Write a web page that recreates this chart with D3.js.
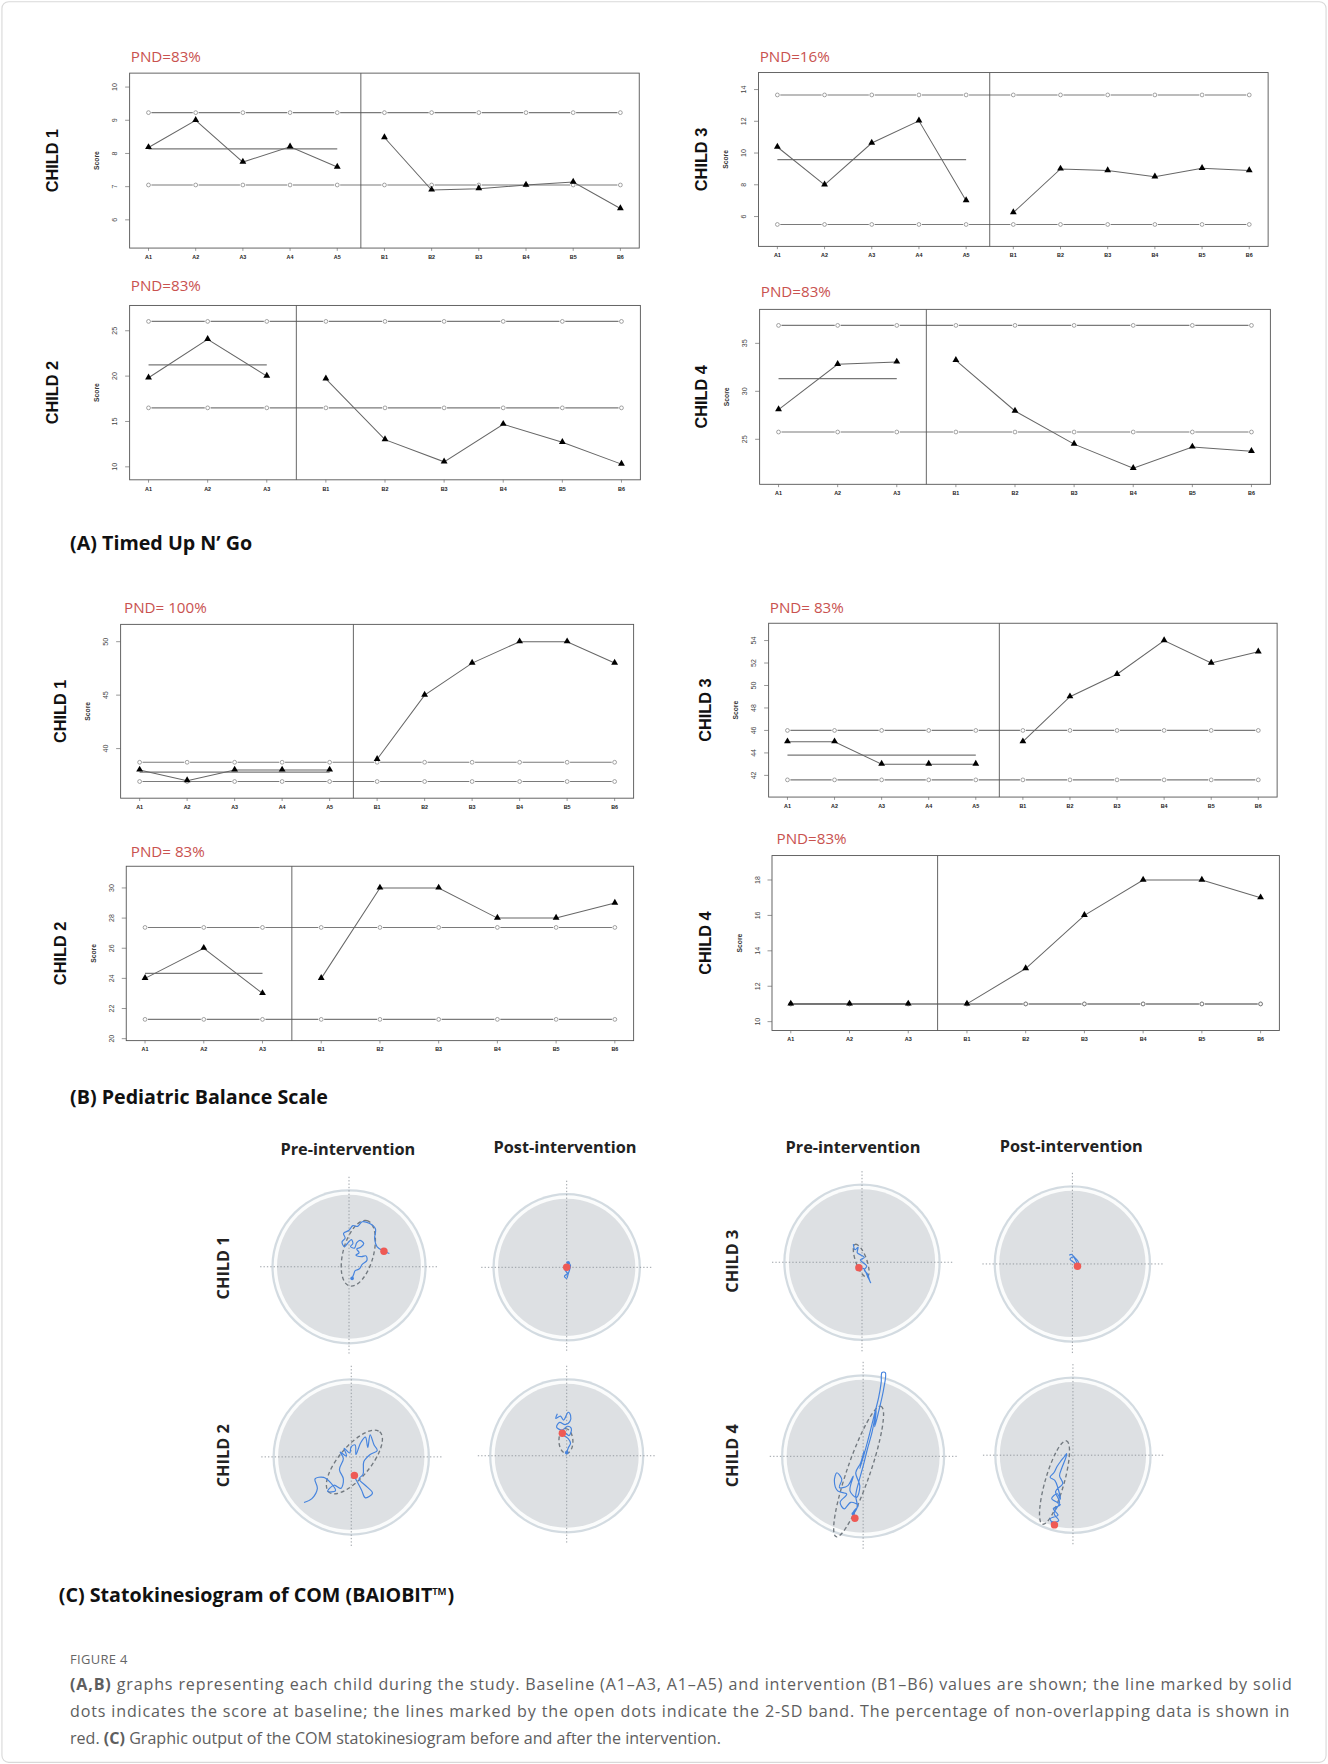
<!DOCTYPE html>
<html lang="en">
<head>
<meta charset="UTF-8" />
<title>Figure 4</title>
<script src="https://cdn.jsdelivr.net/npm/d3@7/dist/d3.min.js"></script>
<style>
  body { margin: 0; background: #fff; }
  svg { display: block; font-family: "Open Sans", "DejaVu Sans", sans-serif; }
</style>
</head>
<body>
<script>
// ---- tick labels ----
var labels5 = ["A1","A2","A3","A4","A5","B1","B2","B3","B4","B5","B6"];
var labels3 = ["A1","A2","A3","B1","B2","B3","B4","B5","B6"];

// ---- (A) Timed Up N' Go, child 1..4 ----
var tugChild1 = [8.18, 9.0, 7.74, 8.2, 7.59, 8.48, 6.9, 6.94, 7.05, 7.14, 6.34];
var tugChild2 = [19.82, 24.05, 20.0, 19.7, 13.0, 10.55, 14.7, 12.7, 10.3];
var tugChild3 = [10.38, 8.0, 10.63, 12.03, 7.0, 6.25, 9.0, 8.9, 8.5, 9.04, 8.9];
var tugChild4 = [28.09, 32.81, 33.06, 33.23, 27.95, 24.5, 21.98, 24.2, 23.75];
var tugMean  = [8.14, 21.25, 9.58, 31.32];
var tugUpper = [9.23, 26.03, 13.66, 36.87];
var tugLower = [7.05, 16.5, 5.5, 25.76];
var tugPnd = ["PND=83%", "PND=83%", "PND=16%", "PND=83%"];
var tugTicks = [[6,7,8,9,10], [10,15,20,25], [6,8,10,12,14], [25,30,35]];

// ---- (B) Pediatric Balance Scale, child 1..4 ----
var pbsChild1 = [38, 37, 38, 38, 38, 39, 45, 48, 50, 50, 48];
var pbsChild2 = [24, 26, 23, 24, 30, 30, 28, 28, 29];
var pbsChild3 = [45, 45, 43, 43, 43, 45, 49, 51, 54, 52, 53];
var pbsChild4 = [11, 11, 11, 11, 13, 16, 18, 18, 17];
var pbsMean  = [37.8, 24.33, 43.8, 11];
var pbsUpper = [38.72, 27.38, 46.0, 11];
var pbsLower = [36.92, 21.28, 41.6, 11];
var pbsPnd = ["PND= 100%", "PND= 83%", "PND= 83%", "PND=83%"];
var pbsTicks = [[40,45,50], [20,22,24,26,28,30], [42,44,46,48,50,52,54], [10,12,14,16,18]];

// ---- (C) statokinesiogram, COM path (units: circle radius = 10) ----
var comPre1 = [[5.2,1.7],[4.5,2.0],[3.6,2.6],[3.3,3.6],[3.4,4.9],[2.6,5.6],[1.7,5.8],[1.1,5.2],[0.5,5.3],[0.0,4.7],[-0.7,4.3],[-0.5,3.7],[-0.9,3.2],[-0.6,2.6],[-0.2,3.0],[0.3,3.5],[0.5,3.0],[0.2,2.6],[0.7,2.4],[1.0,3.1],[1.4,3.4],[1.9,3.0],[1.5,2.5],[1.0,2.3],[1.3,1.8],[0.9,1.5],[1.6,1.3],[2.2,1.4],[2.3,0.8],[1.7,0.3],[1.3,-0.3],[0.8,-0.5],[0.6,-1.0],[0.4,-1.5]];
var comPost1 = [[0.3,0.5],[0.1,0.2],[0.4,-0.1],[-0.2,-0.4],[0.1,-0.8],[-0.3,-1.2],[0.0,-1.5],[0.2,-0.9],[0.4,-0.3],[0.5,0.3],[0.2,0.6]];
var comPre2 = [[-6.0,-5.8],[-5.0,-5.3],[-4.3,-4.0],[-4.6,-2.8],[-3.5,-2.6],[-2.6,-3.3],[-2.0,-4.3],[-3.0,-4.4],[-2.2,-3.6],[-1.3,-4.0],[-1.0,-2.8],[-1.5,-1.6],[-1.0,-0.2],[-1.4,0.6],[-0.6,0.1],[-0.9,1.1],[-0.2,0.5],[0.0,1.3],[0.5,1.5],[0.6,0.3],[1.2,1.8],[1.8,2.5],[2.1,1.2],[2.4,2.8],[2.9,1.5],[3.3,0.8],[2.4,0.3],[1.6,-0.6],[1.5,-2.2],[1.0,-2.8],[2.0,-3.8],[2.7,-4.6],[1.8,-5.2],[1.3,-4.2],[0.4,-2.5]];
var comPost2 = [[-1.2,5.4],[-1.4,4.8],[-0.8,5.1],[-0.4,4.6],[0.2,5.6],[0.5,5.2],[0.4,4.4],[-0.2,4.0],[-0.9,4.3],[-1.3,3.7],[-0.6,3.3],[0.1,3.8],[0.6,3.5],[0.3,2.6],[-0.3,3.0],[-0.6,2.8],[0.2,2.2],[0.5,1.6],[0.2,1.0],[0.0,0.4]];
var comPre3 = [[-1.1,2.3],[-0.9,1.6],[-0.5,1.9],[-0.6,1.2],[-0.1,0.9],[0.3,0.6],[-0.2,0.3],[0.2,-0.1],[0.6,-0.5],[0.3,-1.0],[0.7,-1.5],[1.0,-2.4],[1.1,-2.6],[0.8,-2.0],[0.2,-0.8],[-0.4,-0.7]];
var comPost3 = [[-0.4,1.1],[-0.1,1.2],[0.3,0.8],[0.6,0.5],[0.8,0.1],[0.6,-0.2],[0.2,0.2],[-0.3,0.6],[0.1,0.9],[0.5,0.3],[0.65,-0.3]];
var comPre4 = [[-1.0,-7.55],[-1.2,-6.8],[-0.6,-6.0],[-1.5,-5.6],[-2.3,-6.4],[-2.8,-5.6],[-2.0,-4.6],[-3.1,-4.2],[-3.5,-3.0],[-3.2,-2.0],[-2.6,-2.8],[-2.9,-3.8],[-1.9,-3.6],[-1.2,-2.4],[-1.6,-4.2],[-0.8,-5.0],[-0.4,-3.6],[-0.9,-2.0],[-0.3,-0.8],[0.1,0.6],[-0.4,-1.5],[0.3,0.9],[0.8,2.8],[1.3,4.8],[1.9,7.2],[2.2,9.0],[2.3,10.2],[2.7,10.2],[2.5,8.2],[1.9,5.5],[1.4,3.6],[1.6,5.6],[1.1,3.0],[0.5,0.8],[0.0,-1.2],[-0.5,-3.0],[-0.9,-4.8],[-0.7,-6.2],[-1.2,-7.0]];
var comPost4 = [[-2.35,-8.8],[-2.9,-8.1],[-1.9,-7.6],[-2.5,-6.8],[-1.6,-6.3],[-2.7,-5.5],[-2.0,-4.9],[-1.6,-5.6],[-1.9,-4.2],[-2.3,-3.2],[-2.9,-2.8],[-2.4,-2.2],[-2.0,-1.4],[-1.5,-0.7],[-1.1,-0.2],[-0.8,0.2],[-0.9,-0.3],[-1.4,-1.6],[-1.7,-2.6],[-1.3,-3.6],[-2.2,-4.6],[-1.7,-6.0],[-2.4,-7.4],[-1.8,-8.3],[-2.6,-8.6]];
// 95% ellipse: centre x, centre y, semi-major, semi-minor, angle (deg)
var ellPre  = [[1.2,1.74,4.35,1.96,75], [0.4,-0.65,5.0,2.0,50], [-0.1,0.2,2.2,0.7,110], [-0.55,-1.85,8.4,1.4,71]];
var ellPost = [null, [-0.1,1.9,1.6,0.9,92], null, [-2.34,-3.47,5.5,1.2,74]];
// start point (red)
var startPre  = [[4.5,2.0], [0.4,-2.35], [-0.4,-0.7], [-1.0,-7.55]];
var startPost = [[0.0,0.0], [-0.56,2.9], [0.65,-0.3], [-2.35,-8.85]];

var W = 1180, H = 1568;
var svg = d3.select("body").append("svg")
  .attr("width", 1328).attr("height", 1764)
  .attr("viewBox", "0 0 " + W + " " + H);

svg.append("rect").attr("x", 1.5).attr("y", 1.5).attr("width", W - 3).attr("height", H - 3)
  .attr("rx", 6).attr("fill", "#fff").attr("stroke", "#d9d9d9");

var red = "#c9524f";

function drawScd(c) {
  var g = svg.append("g");
  var n = c.values.length;
  var pad = 0.04 * (n - 1);
  var x = d3.scaleLinear().domain([1 - pad, n + pad]).range([c.box[0], c.box[2]]);
  var y = d3.scaleLinear().domain(c.yDomain).range([c.box[3], c.box[1]]);
  var idx = d3.range(n);

  // 2-SD band lines (type "b")
  [c.upper, c.lower].forEach(function(v) {
    var gap = 2.6;
    g.selectAll(null).data(idx.slice(0, n - 1)).enter().append("line")
      .attr("x1", function(i) { return x(i + 1) + gap; })
      .attr("x2", function(i) { return x(i + 2) - gap; })
      .attr("y1", y(v)).attr("y2", y(v))
      .attr("stroke", "#7a7a7a").attr("stroke-width", 1);
    g.selectAll(null).data(idx).enter().append("circle")
      .attr("cx", function(i) { return x(i + 1); })
      .attr("cy", y(v)).attr("r", 1.7)
      .attr("fill", "none").attr("stroke", "#777").attr("stroke-width", 0.6);
  });

  // baseline mean line
  g.append("line")
    .attr("x1", x(1)).attr("x2", x(c.nA))
    .attr("y1", y(c.mean)).attr("y2", y(c.mean))
    .attr("stroke", "#777").attr("stroke-width", 1.1);

  // phase line
  g.append("line")
    .attr("x1", x(c.nA + 0.5)).attr("x2", x(c.nA + 0.5))
    .attr("y1", c.box[1]).attr("y2", c.box[3])
    .attr("stroke", "#555").attr("stroke-width", 0.8);

  // data lines per phase
  var line = d3.line().x(function(i) { return x(i + 1); }).y(function(i) { return y(c.values[i]); });
  [idx.slice(0, c.nA), idx.slice(c.nA)].forEach(function(seg) {
    g.append("path").attr("d", line(seg))
      .attr("fill", "none").attr("stroke", "#666").attr("stroke-width", 0.9);
  });
  g.selectAll(null).data(idx).enter().append("path")
    .attr("d", d3.symbol(d3.symbolTriangle, 16))
    .attr("transform", function(i) { return "translate(" + x(i + 1) + "," + (y(c.values[i]) - 0.3) + ")"; })
    .attr("fill", "#000");

  // box
  g.append("rect")
    .attr("x", c.box[0]).attr("y", c.box[1])
    .attr("width", c.box[2] - c.box[0]).attr("height", c.box[3] - c.box[1])
    .attr("fill", "none").attr("stroke", "#555").attr("stroke-width", 0.8);

  // y axis
  c.ticks.forEach(function(t) {
    g.append("line").attr("x1", c.box[0] - 4).attr("x2", c.box[0])
      .attr("y1", y(t)).attr("y2", y(t)).attr("stroke", "#666").attr("stroke-width", 0.6);
    g.append("text")
      .attr("transform", "translate(" + (c.box[0] - 11) + "," + y(t) + ") rotate(-90)")
      .attr("text-anchor", "middle")
      .attr("font-family", "Liberation Sans, Arial, sans-serif")
      .attr("font-size", 6.3).attr("fill", "#444").text(t);
  });
  g.append("text")
    .attr("transform", "translate(" + (c.box[0] - 27) + "," + ((c.box[1] + c.box[3]) / 2) + ") rotate(-90)")
    .attr("text-anchor", "middle")
    .attr("font-family", "Liberation Sans, Arial, sans-serif")
    .attr("font-size", 6).attr("font-weight", "bold").attr("fill", "#333").text("Score");

  // x axis
  g.selectAll(null).data(idx).enter().append("line")
    .attr("x1", function(i) { return x(i + 1); }).attr("x2", function(i) { return x(i + 1); })
    .attr("y1", c.box[3]).attr("y2", c.box[3] + 2.5)
    .attr("stroke", "#666").attr("stroke-width", 0.6);
  g.selectAll(null).data(idx).enter().append("text")
    .attr("x", function(i) { return x(i + 1); })
    .attr("y", c.box[3] + 9.5)
    .attr("text-anchor", "middle")
    .attr("font-family", "Liberation Sans, Arial, sans-serif")
    .attr("font-size", 4.8).attr("font-weight", "bold").attr("fill", "#222")
    .text(function(i) { return c.labels[i]; });

  // PND
  g.append("text").attr("x", c.pnd[1]).attr("y", c.pnd[2])
    .attr("font-size", 13.5).attr("fill", red).text(c.pnd[0]);

  // child label
  g.append("text")
    .attr("transform", "translate(" + c.child[1] + "," + ((c.box[1] + c.box[3]) / 2) + ") rotate(-90)")
    .attr("text-anchor", "middle")
    .attr("font-family", "Liberation Sans, Arial, sans-serif")
    .attr("font-size", 14.5).attr("font-weight", "bold").attr("fill", "#111")
    .text(c.child[0]);
}

// panel A
drawScd({ values: tugChild1, nA: 5, labels: labels5, mean: tugMean[0], upper: tugUpper[0], lower: tugLower[0],
  ticks: tugTicks[0], yDomain: [5.15, 10.42], box: [115, 65, 568, 220.5], pnd: [tugPnd[0], 116, 55], child: ["CHILD 1", 51] });
drawScd({ values: tugChild3, nA: 5, labels: labels5, mean: tugMean[2], upper: tugUpper[2], lower: tugLower[2],
  ticks: tugTicks[2], yDomain: [4.12, 15.07], box: [674, 64.5, 1127, 219], pnd: [tugPnd[2], 675, 55], child: ["CHILD 3", 628] });
drawScd({ values: tugChild2, nA: 3, labels: labels3, mean: tugMean[1], upper: tugUpper[1], lower: tugLower[1],
  ticks: tugTicks[1], yDomain: [8.57, 27.79], box: [115, 271.5, 569, 426.5], pnd: [tugPnd[1], 116, 259], child: ["CHILD 2", 51] });
drawScd({ values: tugChild4, nA: 3, labels: labels3, mean: tugMean[3], upper: tugUpper[3], lower: tugLower[3],
  ticks: tugTicks[3], yDomain: [20.31, 38.54], box: [675, 275, 1129, 430.5], pnd: [tugPnd[3], 676, 264], child: ["CHILD 4", 628] });

// panel B
drawScd({ values: pbsChild1, nA: 5, labels: labels5, mean: pbsMean[0], upper: pbsUpper[0], lower: pbsLower[0],
  ticks: pbsTicks[0], yDomain: [35.36, 51.62], box: [107, 555, 563, 709.5], pnd: [pbsPnd[0], 110, 545], child: ["CHILD 1", 58] });
drawScd({ values: pbsChild3, nA: 5, labels: labels5, mean: pbsMean[2], upper: pbsUpper[2], lower: pbsLower[2],
  ticks: pbsTicks[2], yDomain: [40.07, 55.54], box: [683, 554, 1135, 708.5], pnd: [pbsPnd[2], 684, 545], child: ["CHILD 3", 632] });
drawScd({ values: pbsChild2, nA: 3, labels: labels3, mean: pbsMean[1], upper: pbsUpper[1], lower: pbsLower[1],
  ticks: pbsTicks[1], yDomain: [19.87, 31.44], box: [112, 770, 563, 925], pnd: [pbsPnd[1], 116, 762], child: ["CHILD 2", 58] });
drawScd({ values: pbsChild4, nA: 3, labels: labels3, mean: pbsMean[3], upper: pbsUpper[3], lower: pbsLower[3],
  ticks: pbsTicks[3], yDomain: [9.5, 19.38], box: [686, 760.5, 1137, 916], pnd: [pbsPnd[3], 690, 750], child: ["CHILD 4", 632] });

// section titles
function sectionTitle(txt, x, y) {
  svg.append("text").attr("x", x).attr("y", y)
    .attr("font-size", 17.5).attr("font-weight", "bold").attr("fill", "#111").text(txt);
}
sectionTitle("(A) Timed Up N\u2019 Go", 62, 489);
sectionTitle("(B) Pediatric Balance Scale", 62, 981);
sectionTitle("(C) Statokinesiogram of COM (BAIOBIT\u2122)", 52, 1424);

// panel C
function drawStato(cx, cy, r, path, ell, start) {
  var g = svg.append("g");
  var sx = d3.scaleLinear().domain([-10, 10]).range([cx - r, cx + r]);
  var sy = d3.scaleLinear().domain([-10, 10]).range([cy + r, cy - r]);
  g.append("circle").attr("cx", cx).attr("cy", cy).attr("r", r).attr("fill", "#d3dbe1");
  g.append("circle").attr("cx", cx).attr("cy", cy).attr("r", r - 2).attr("fill", "#fbfcfc");
  g.append("circle").attr("cx", cx).attr("cy", cy).attr("r", r - 5).attr("fill", "#dde0e3");
  g.append("line").attr("x1", cx).attr("x2", cx).attr("y1", cy - r - 11).attr("y2", cy + r + 10)
    .attr("stroke", "#8f959c").attr("stroke-width", 0.8).attr("stroke-dasharray", "1.2,1.8");
  g.append("line").attr("x1", cx - r - 10).attr("x2", cx + r + 11).attr("y1", cy).attr("y2", cy)
    .attr("stroke", "#8f959c").attr("stroke-width", 0.8).attr("stroke-dasharray", "1.2,1.8");
  if (ell) {
    var ex = sx(ell[0]), ey = sy(ell[1]);
    g.append("ellipse").attr("cx", ex).attr("cy", ey)
      .attr("rx", sx(ell[2]) - sx(0)).attr("ry", sx(ell[3]) - sx(0))
      .attr("transform", "rotate(" + (-ell[4]) + " " + ex + " " + ey + ")")
      .attr("fill", "none").attr("stroke", "#737a80").attr("stroke-width", 1.2)
      .attr("stroke-dasharray", "3.5,2.5");
  }
  var line = d3.line().x(function(d) { return sx(d[0]); }).y(function(d) { return sy(d[1]); })
    .curve(d3.curveCatmullRom.alpha(0.5));
  g.append("path").attr("d", line(path)).attr("fill", "none")
    .attr("stroke", "#4684de").attr("stroke-width", 1.05).attr("stroke-linejoin", "round");
  var last = path[path.length - 1];
  g.append("circle").attr("cx", sx(last[0])).attr("cy", sy(last[1])).attr("r", 1.6).attr("fill", "#4684de");
  g.append("circle").attr("cx", sx(start[0])).attr("cy", sy(start[1])).attr("r", 3.3).attr("fill", "#ee5a55");
}

drawStato(310, 1126, 69, comPre1, ellPre[0], startPre[0]);
drawStato(503.5, 1126.5, 66, comPost1, ellPost[0], startPost[0]);
drawStato(312, 1295, 70, comPre2, ellPre[1], startPre[1]);
drawStato(503.5, 1294, 69, comPost2, ellPost[1], startPost[1]);
drawStato(766, 1122, 70, comPre3, ellPre[2], startPre[2]);
drawStato(953, 1123.5, 70, comPost3, ellPost[2], startPost[2]);
drawStato(767, 1294.5, 73, comPre4, ellPre[3], startPre[3]);
drawStato(953.5, 1293.5, 70, comPost4, ellPost[3], startPost[3]);

var heads = [["Pre-intervention", 309, 1027], ["Post-intervention", 502, 1025],
             ["Pre-intervention", 758, 1025], ["Post-intervention", 952, 1024]];
heads.forEach(function(h) {
  svg.append("text").attr("x", h[1]).attr("y", h[2]).attr("text-anchor", "middle")
    .attr("font-size", 14.5).attr("font-weight", "bold").attr("fill", "#222").text(h[0]);
});
var rows = [["CHILD 1", 203, 1127], ["CHILD 2", 203, 1294], ["CHILD 3", 656, 1121], ["CHILD 4", 656, 1294]];
rows.forEach(function(r) {
  svg.append("text").attr("transform", "translate(" + r[1] + "," + r[2] + ") rotate(-90)")
    .attr("text-anchor", "middle")
    .attr("font-size", 14.5).attr("font-weight", "bold").attr("fill", "#222").text(r[0]);
});

// caption
svg.append("text").attr("x", 62).attr("y", 1479).attr("font-size", 11.5)
  .attr("fill", "#666").attr("letter-spacing", 0.3).text("FIGURE 4");

var cap1 = svg.append("text").attr("x", 62).attr("y", 1502).attr("font-size", 14.3).attr("fill", "#5e5e5e")
  .attr("textLength", 1086).attr("lengthAdjust", "spacing");
cap1.append("tspan").attr("font-weight", "bold").text("(A,B)");
cap1.append("tspan").text(" graphs representing each child during the study. Baseline (A1\u2013A3, A1\u2013A5) and intervention (B1\u2013B6) values are shown; the line marked by solid");
svg.append("text").attr("x", 62).attr("y", 1526).attr("font-size", 14.3).attr("fill", "#5e5e5e")
  .attr("textLength", 1084).attr("lengthAdjust", "spacing")
  .text("dots indicates the score at baseline; the lines marked by the open dots indicate the 2-SD band. The percentage of non-overlapping data is shown in");
var cap3 = svg.append("text").attr("x", 62).attr("y", 1550).attr("font-size", 14.3).attr("fill", "#5e5e5e");
cap3.append("tspan").text("red. ");
cap3.append("tspan").attr("font-weight", "bold").text("(C)");
cap3.append("tspan").text(" Graphic output of the COM statokinesiogram before and after the intervention.");
</script>
</body>
</html>
